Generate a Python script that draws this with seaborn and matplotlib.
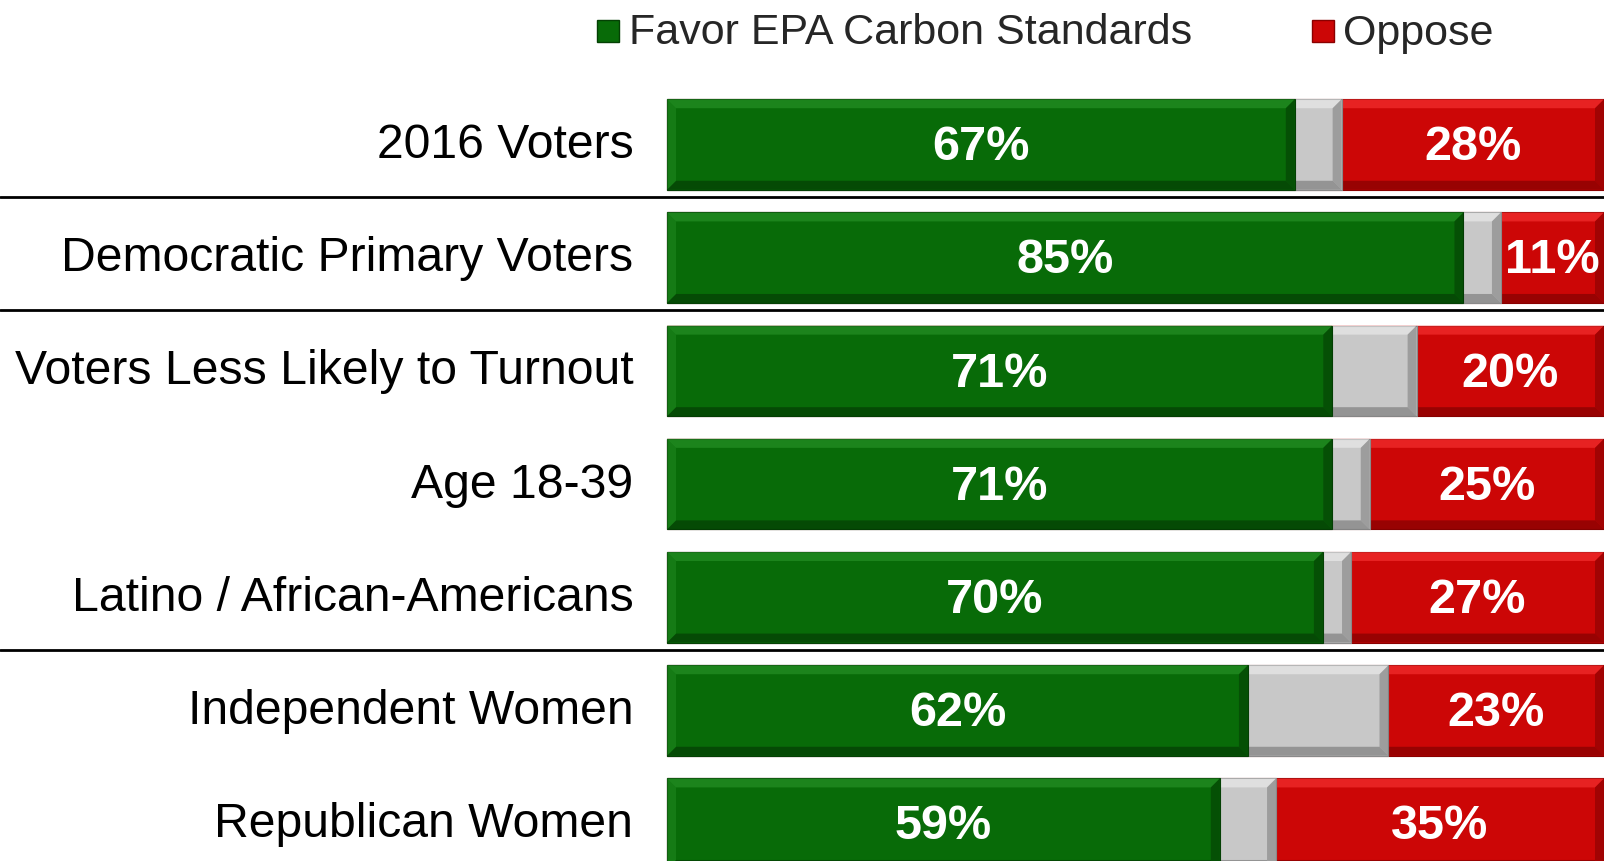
import matplotlib
matplotlib.use("Agg")
import matplotlib.pyplot as plt
import seaborn as sns
import pandas as pd
import numpy as np
from matplotlib.patches import Rectangle, Polygon

categories = ["2016 Voters", "Democratic Primary Voters", "Voters Less Likely to Turnout",
              "Age 18-39", "Latino / African-Americans", "Independent Women", "Republican Women"]
favor = [67, 85, 71, 71, 70, 62, 59]
undecided = [5, 4, 9, 4, 3, 15, 6]
oppose = [28, 11, 20, 25, 27, 23, 35]
legend_labels = ["Favor EPA Carbon Standards", "Oppose"]
separators_after = [0, 1, 4]

GREEN = "#086B08"
GRAY = "#C8C8C8"
RED = "#CC0606"

sns.set_theme(style="white")
plt.rcParams['font.family'] = ['Liberation Sans', 'DejaVu Sans']

df = pd.DataFrame({"cat": categories, "favor": favor, "und": undecided, "opp": oppose})
df["c1"] = df["favor"]
df["c2"] = df["favor"] + df["und"]
df["c3"] = df["c2"] + df["opp"]

fig = plt.figure(figsize=(16.04, 8.62), dpi=100)
ax = fig.add_axes([0, 0, 1, 1])

W, X0 = 1604.0, 667.0
xmin = -X0 / (W - X0) * 100
row0, step = 145.5, 113.2

layers = [("c3", RED, "#8A0000", "#FF3A3A", "#6E0000"),
          ("c2", GRAY, "#8A8A8A", "#F2F2F2", "#6A6A6A"),
          ("c1", GREEN, "#044004", "#2E9A2E", "#033003")]

px_per_x = (W - X0) / 100.0
dx = 9 / px_per_x
dy = 9 / step

for li, (col, fc, ec, light, dark) in enumerate(layers):
    n_before = len(ax.patches)
    sns.barplot(data=df, x=col, y="cat", orient="h", color=fc, width=0.8,
                edgecolor=ec, linewidth=0.8, ax=ax, saturation=1)
    z = 1 + li
    for p in ax.patches[n_before:]:
        p.set_zorder(z)
        x, y = p.get_x(), p.get_y()
        w, h = p.get_width(), p.get_height()
        ddx = min(dx, w / 2)
        bev = [
            ([(x, y), (x + w, y), (x + w - ddx, y + dy), (x + ddx, y + dy)], light, 0.55),
            ([(x, y + h), (x + w, y + h), (x + w - ddx, y + h - dy), (x + ddx, y + h - dy)], dark, 0.55),
            ([(x, y), (x + ddx, y + dy), (x + ddx, y + h - dy), (x, y + h)], light, 0.35),
            ([(x + w, y), (x + w - ddx, y + dy), (x + w - ddx, y + h - dy), (x + w, y + h)], dark, 0.45),
        ]
        for pts, c, a in bev:
            ax.add_patch(Polygon(pts, closed=True, facecolor=c, edgecolor="none",
                                 alpha=a, zorder=z + 0.5))

ax.set_xlim(xmin, 100)
ax.set_ylim((862 - row0) / step, -row0 / step)
ax.axis("off")

for i, cat in enumerate(categories):
    ax.text(-3.6, i, cat, ha="right", va="center", fontsize=34.7, color="black")
    ax.text(favor[i] / 2, i + 0.02, f"{favor[i]}%", ha="center", va="center",
            fontsize=35, fontweight="bold", color="white", zorder=10)
    ax.text(favor[i] + undecided[i] + oppose[i] / 2, i + 0.02, f"{oppose[i]}%",
            ha="center", va="center", fontsize=35, fontweight="bold", color="white",
            clip_on=False, zorder=10)

for s in separators_after:
    ax.axhline(s + 0.465, color="black", linewidth=2, zorder=0.5)

# legend
def leg(x_sq, x_txt, color, edge, label):
    fig.patches.append(Rectangle((x_sq / W, 1 - 43 / 862), 22 / W, 22 / 862,
                                 transform=fig.transFigure, facecolor=color,
                                 edgecolor=edge, linewidth=1))
    fig.text(x_txt / W, 1 - 33.5 / 862, label, ha="left", va="center", fontsize=31)

leg(597, 629, GREEN, "#044004", legend_labels[0])
leg(1312, 1343, RED, "#8A0000", legend_labels[1])

fig.savefig("out.png", dpi=100)
